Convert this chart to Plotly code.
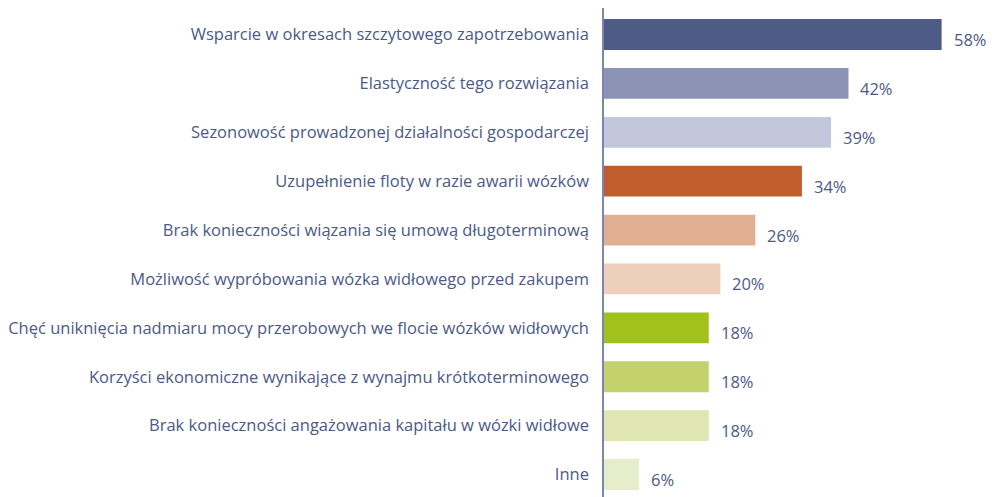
import plotly.graph_objects as go

categories = [
    "Wsparcie w okresach szczytowego zapotrzebowania",
    "Elastyczność tego rozwiązania",
    "Sezonowość prowadzonej działalności gospodarczej",
    "Uzupełnienie floty w razie awarii wózków",
    "Brak konieczności wiązania się umową długoterminową",
    "Możliwość wypróbowania wózka widłowego przed zakupem",
    "Chęć uniknięcia nadmiaru mocy przerobowych we flocie wózków widłowych",
    "Korzyści ekonomiczne wynikające z wynajmu krótkoterminowego",
    "Brak konieczności angażowania kapitału w wózki widłowe",
    "Inne",
]
values = [58, 42, 39, 34, 26, 20, 18, 18, 18, 6]
labels = ["58%", "42%", "39%", "34%", "26%", "20%", "18%", "18%", "18%", "6%"]
colors = ["#4d5b86", "#8b94b4", "#c2c7db", "#bf5d2f", "#e0ae91",
          "#eecfbb", "#a3c11b", "#c3d26c", "#dfe6b3", "#e6edcb"]

TEXT = "#4b5a87"
FONT = "Open Sans"

fig = go.Figure(go.Bar(
    x=values, y=categories, orientation="h",
    marker=dict(color=colors, line=dict(width=0)),
    width=0.63, hoverinfo="skip",
))

for c, v, t in zip(categories, values, labels):
    fig.add_annotation(x=v, y=c, text=t, showarrow=False, xanchor="left",
                       xshift=10, yshift=-5,
                       font=dict(family=FONT, size=16.5, color=TEXT))

fig.update_layout(
    width=986, height=489,
    margin=dict(l=593, r=0, t=0, b=0),
    paper_bgcolor="white", plot_bgcolor="white",
    showlegend=False,
    xaxis=dict(range=[0, 67], visible=False, fixedrange=True),
    yaxis=dict(
        categoryorder="array", categoryarray=categories,
        range=[9.46, -0.542],
        showline=True, linecolor="#7d86a8", linewidth=1.5,
        showgrid=False, zeroline=False, ticks="", ticklabelstandoff=10,
        tickfont=dict(family=FONT, size=16.5, color=TEXT),
    ),
)

fig.write_html("out.html")
